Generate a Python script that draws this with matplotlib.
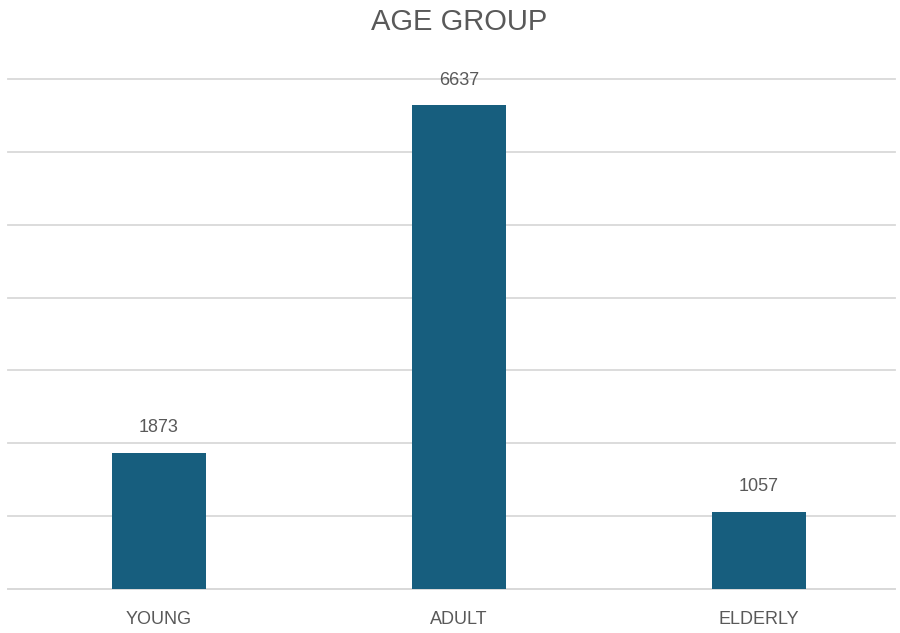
import matplotlib
matplotlib.use("Agg")
import matplotlib.pyplot as plt
from matplotlib import font_manager

categories = ["YOUNG", "ADULT", "ELDERLY"]
counts = [1873, 6637, 1057]
title = "AGE GROUP"

available = {f.name for f in font_manager.fontManager.ttflist}
family = "Liberation Sans Narrow" if "Liberation Sans Narrow" in available else "Liberation Sans"
plt.rcParams["font.family"] = [family, "DejaVu Sans"]

text_color = "#595959"
grid_color = "#D9D9D9"
bar_color = "#175E7E"

fig = plt.figure(figsize=(9, 6.33), dpi=100)
ax = fig.add_axes([8 / 900, 1 - 589 / 633, 887 / 900, (589 - 79) / 633])

x = list(range(len(categories)))
bars = ax.bar(x, counts, width=0.313, color=bar_color, zorder=3)

ax.set_ylim(0, 7000)
ax.set_xlim(-0.503, 2.453)
ax.set_yticks(range(0, 7001, 1000))
ax.yaxis.grid(True, color=grid_color, linewidth=1.3, zorder=0)
for gl in ax.get_ygridlines():
    gl.set_clip_on(False)
ax.tick_params(axis="y", left=False, labelleft=False)
ax.tick_params(axis="x", length=0, pad=16, labelsize=13, labelcolor=text_color)
ax.set_xticks(x)
ax.set_xticklabels(categories)
for side in ("top", "right", "left"):
    ax.spines[side].set_visible(False)
ax.spines["bottom"].set_color(grid_color)
ax.spines["bottom"].set_linewidth(1.3)

for xi, v in zip(x, counts):
    ax.annotate(f"{v}", (xi, v), xytext=(0, 12), textcoords="offset points",
                ha="center", va="bottom", fontsize=13, color=text_color)

fig.text(459 / 900, 1 - 22 / 633, title, ha="center", va="center",
         fontsize=21, color=text_color)

fig.savefig("out.png", dpi=100, facecolor="white")
